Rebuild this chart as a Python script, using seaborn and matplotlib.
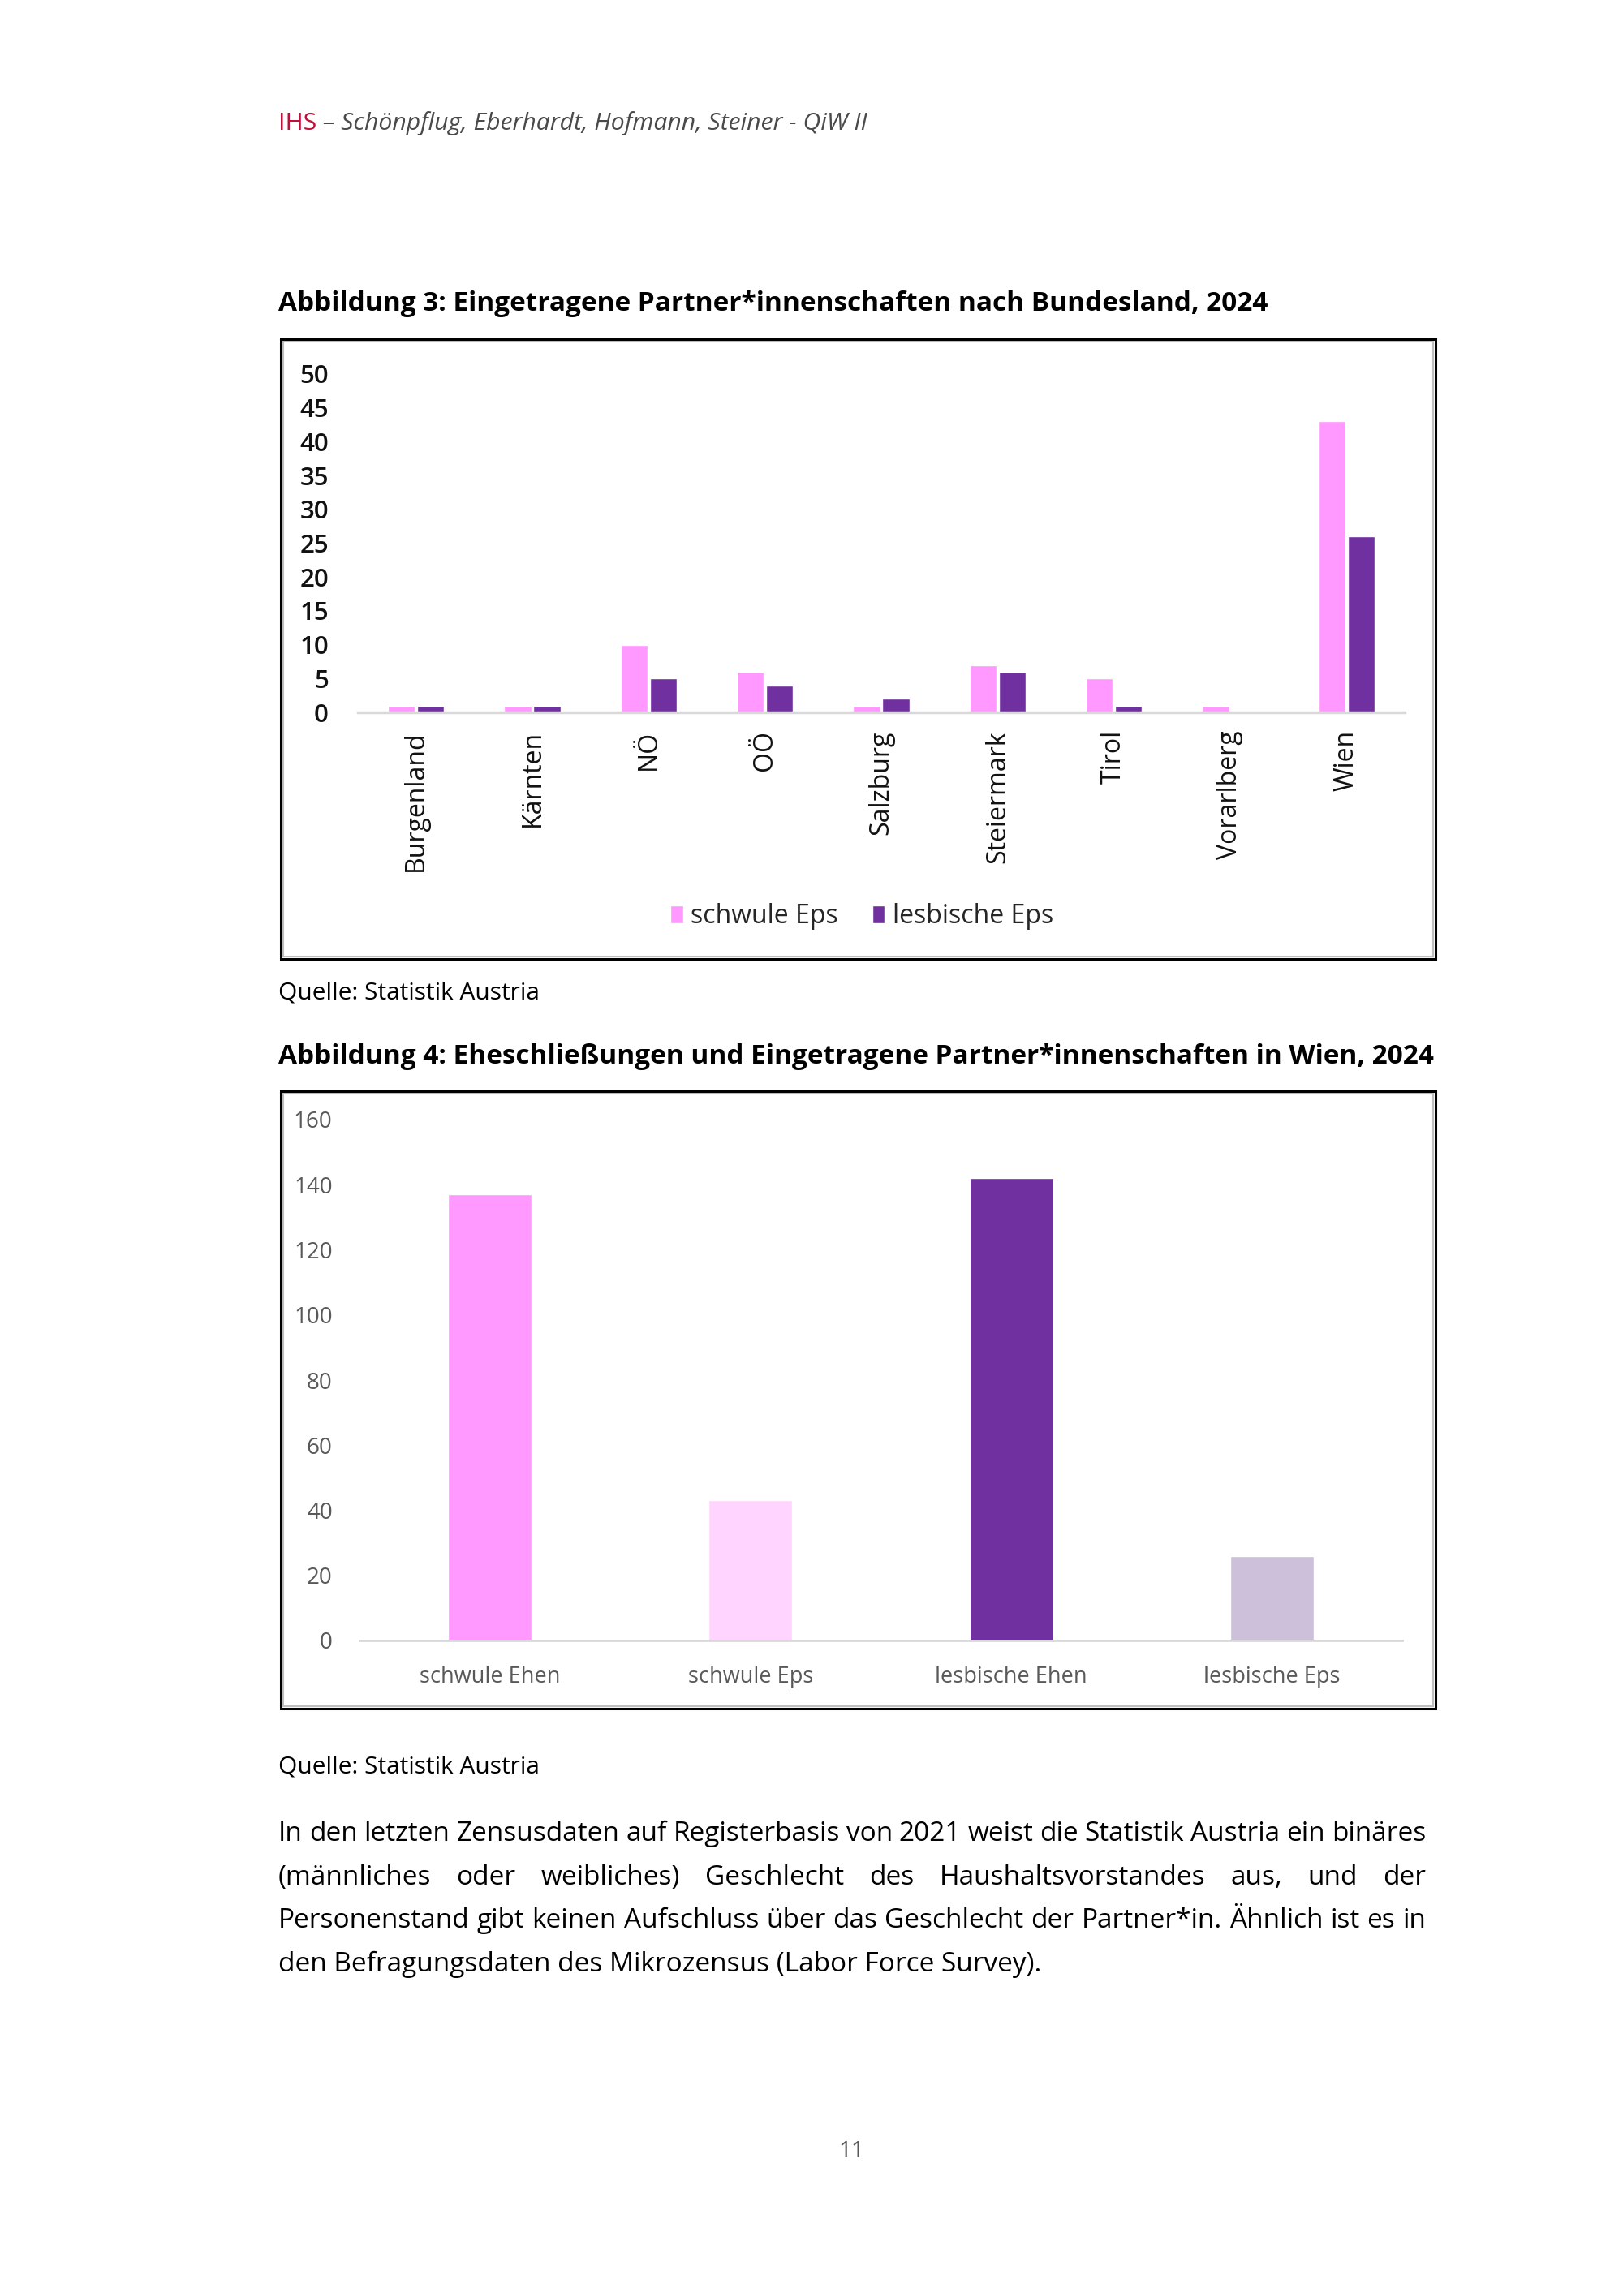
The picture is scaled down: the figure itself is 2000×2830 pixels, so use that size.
import pandas as pd
import matplotlib
matplotlib.use("Agg")
import matplotlib.pyplot as plt
import matplotlib.patches as patches
from matplotlib import font_manager
import seaborn as sns

# Daten Abbildung 3
bundeslaender = ["Burgenland", "Kärnten", "NÖ", "OÖ", "Salzburg", "Steiermark", "Tirol", "Vorarlberg", "Wien"]
schwule_eps = [1, 1, 10, 6, 1, 7, 5, 1, 43]
lesbische_eps = [1, 1, 5, 4, 2, 6, 1, 0, 26]
serien = ["schwule Eps", "lesbische Eps"]

# Daten Abbildung 4
wien_kategorien = ["schwule Ehen", "schwule Eps", "lesbische Ehen", "lesbische Eps"]
wien_werte = [137, 43, 142, 26]

farben1 = ["#FF99FF", "#7030A0"]
farben2 = ["#FF99FF", "#FFD5FF", "#7030A0", "#CCC0DA"]

body_lines = [
    "In den letzten Zensusdaten auf Registerbasis von 2021 weist die Statistik Austria ein binäres",
    "(männliches oder weibliches) Geschlecht des Haushaltsvorstandes aus, und der",
    "Personenstand gibt keinen Aufschluss über das Geschlecht der Partner*in. Ähnlich ist es in",
    "den Befragungsdaten des Mikrozensus (Labor Force Survey).",
]

sns.set_theme(style="white")
plt.rcParams["font.family"] = ["Open Sans", "DejaVu Sans"]

namen = {f.name for f in font_manager.fontManager.ttflist}
narrow = "Liberation Sans Narrow" if "Liberation Sans Narrow" in namen else "Open Sans"

W, H = 2000, 2830
fig = plt.figure(figsize=(W / 100, H / 100), dpi=100)
fig.patch.set_facecolor("white")


def fx(px):
    return px / W


def fy(py):
    return 1 - py / H


def rahmen(x0, y0, x1, y1):
    fig.patches.append(patches.Rectangle((fx(x0), fy(y1)), fx(x1 - x0), (y1 - y0) / H,
                                         transform=fig.transFigure, fill=False,
                                         edgecolor="#BFBFBF", lw=1.5, zorder=1))
    fig.patches.append(patches.Rectangle((fx(x0 - 3), fy(y1 + 3)), fx(x1 - x0 + 6), (y1 - y0 + 6) / H,
                                         transform=fig.transFigure, fill=False,
                                         edgecolor="black", lw=2.2, zorder=1))


links, rechts = 343, 1757

# Kopfzeile
renderer = fig.canvas.get_renderer()
t_ihs = fig.text(fx(links), fy(160), "IHS", fontsize=21.7, color="#C0103A", va="baseline")
w_ihs = t_ihs.get_window_extent(renderer).width
fig.text(fx(links + w_ihs), fy(160), " – Schönpflug, Eberhardt, Hofmann, Steiner - QiW II",
         fontsize=21.7, color="#4A4A4A", style="italic", va="baseline")

# Abbildung 3
fig.text(fx(links), fy(383), "Abbildung 3: Eingetragene Partner*innenschaften nach Bundesland, 2024",
         fontsize=24, fontweight="bold", color="black", va="baseline")
rahmen(349, 421, 1766, 1179)

df1 = pd.DataFrame({
    "Bundesland": bundeslaender * 2,
    "Anzahl": schwule_eps + lesbische_eps,
    "Typ": [serien[0]] * len(bundeslaender) + [serien[1]] * len(bundeslaender),
})
ax1 = fig.add_axes([fx(441), fy(878), fx(1731 - 441), (878 - 461) / H])
sns.barplot(data=df1, x="Bundesland", y="Anzahl", hue="Typ", palette=farben1,
            width=0.5, gap=0.07, ax=ax1, saturation=1)
ax1.set_ylim(0, 50)
ax1.set_yticks(range(0, 51, 5))
ax1.set_xlabel("")
ax1.set_ylabel("")
ax1.tick_params(axis="both", length=0)
ax1.tick_params(axis="y", pad=26, labelsize=22.5, labelcolor="#111111")
ax1.tick_params(axis="x", pad=16, labelsize=23, labelcolor="#111111")
for lab in ax1.get_yticklabels():
    lab.set_fontweight("semibold")
for lab in ax1.get_xticklabels():
    lab.set_rotation(90)
for s in ["top", "right", "left"]:
    ax1.spines[s].set_visible(False)
ax1.spines["bottom"].set_color("#D9D9D9")
ax1.spines["bottom"].set_linewidth(2.5)
ax1.set_facecolor("none")
handles, labels = ax1.get_legend_handles_labels()
ax1.get_legend().remove()
fig.legend(handles, labels, loc="center", bbox_to_anchor=(fx(1062), fy(1130)), ncol=2,
           frameon=False, fontsize=23, handlelength=0.5, handleheight=0.7,
           handletextpad=0.3, columnspacing=1.3)

fig.text(fx(links), fy(1232), "Quelle: Statistik Austria", fontsize=21.5, color="black", va="baseline")

# Abbildung 4
fig.text(fx(links), fy(1311), "Abbildung 4: Eheschließungen und Eingetragene Partner*innenschaften in Wien, 2024",
         fontsize=24, fontweight="bold", color="black", va="baseline")
rahmen(349, 1348, 1766, 2103)

df2 = pd.DataFrame({"Kategorie": wien_kategorien, "Anzahl": wien_werte})
ax2 = fig.add_axes([fx(443), fy(2022), fx(1728 - 443), (2022 - 1380) / H])
sns.barplot(data=df2, x="Kategorie", y="Anzahl", hue="Kategorie", palette=farben2,
            width=0.32, legend=False, ax=ax2, saturation=1)
ax2.set_ylim(0, 160)
ax2.set_yticks(range(0, 161, 20))
ax2.set_xlabel("")
ax2.set_ylabel("")
ax2.tick_params(axis="both", length=0, labelcolor="#595959")
ax2.tick_params(axis="y", pad=24, labelsize=20)
ax2.tick_params(axis="x", pad=22, labelsize=19.5)
for lab in ax2.get_xticklabels() + ax2.get_yticklabels():
    lab.set_family(narrow)
for s in ["top", "right", "left"]:
    ax2.spines[s].set_visible(False)
ax2.spines["bottom"].set_color("#D9D9D9")
ax2.spines["bottom"].set_linewidth(2)
ax2.set_facecolor("none")

fig.text(fx(links), fy(2186), "Quelle: Statistik Austria", fontsize=21.5, color="black", va="baseline")

# Fliesstext (Blocksatz ausser letzter Zeile)
for i, zeile in enumerate(body_lines):
    y = fy(2269 + i * 53.7)
    if i == len(body_lines) - 1:
        fig.text(fx(links), y, zeile, fontsize=24, color="black", va="baseline")
        continue
    woerter = zeile.split(" ")
    texte = [fig.text(0, y, w, fontsize=24, color="black", va="baseline") for w in woerter]
    breiten = [t.get_window_extent(renderer).width for t in texte]
    luecke = (rechts - links - sum(breiten)) / (len(woerter) - 1)
    x = links
    for t, b in zip(texte, breiten):
        t.set_x(fx(x))
        x += b + luecke

fig.text(fx(1049), fy(2659), "11", fontsize=20, color="#595959", ha="center", va="baseline")

plt.savefig("out.png", dpi=100, facecolor="white")
